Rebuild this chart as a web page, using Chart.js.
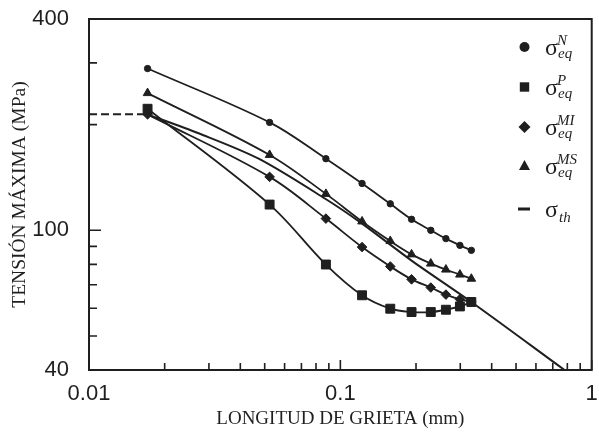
<!DOCTYPE html>
<html><head><meta charset="utf-8">
<script src="https://cdn.jsdelivr.net/npm/chart.js@4.4.1/dist/chart.umd.min.js"></script>
<style>html,body{margin:0;padding:0;background:#fff}#wrap{width:599px;height:436px;position:relative}</style>
</head><body><div id="wrap"><canvas id="c" width="599" height="436"></canvas></div>
<script>
// ---- data ----
const crackLength = [0.0171, 0.0523, 0.0876, 0.122, 0.158, 0.192, 0.229, 0.263, 0.299, 0.332];
const sigmaN  = [289, 203, 160, 136, 119, 107.5, 100, 94.7, 90.6, 87.7];
const sigmaP  = [222, 118.4, 79.9, 65.3, 59.8, 58.5, 58.5, 59.4, 60.7, 62.5];
const sigmaMI = [214, 142, 108, 89.6, 78.9, 72.5, 68.7, 65.6, 63.6, 62.5];
const sigmaMS = [246, 164, 127, 106, 93.2, 85.4, 80.4, 77.3, 74.8, 72.8];
const thLength = [0.0171, 0.0273, 0.0473, 0.0871, 0.122, 0.192, 0.332, 0.78];
const sigmaTh  = [214, 189, 160, 123, 104.5, 82, 62.5, 40];
const thPlateauLength = [0.01, 0.0171];
const thPlateau = [214, 214];
const xTicks = [0.01, 0.1, 1];
const xTickLabels = ['0.01', '0.1', '1'];
const xMinorTicks = [0.02,0.03,0.04,0.05,0.06,0.07,0.08,0.09,0.2,0.3,0.4,0.5,0.6,0.7,0.8,0.9];
const yTicks = [40, 100, 400];
const yTickLabels = ['40', '100', '400'];
const yMinorTicks = [50, 60, 70, 80, 90, 200, 300];
const legendSup = ['N', 'P', 'MI', 'MS'];
const xTitle = 'LONGITUD DE GRIETA (mm)';
const yTitle = 'TENSIÓN MÁXIMA (MPa)';

const ink = '#1f1f1f';
const pts = (xs, ys) => xs.map((x, i) => ({x: x, y: ys[i]}));
const style = (pointStyle, radius) => ({
  borderColor: ink, backgroundColor: ink, pointBackgroundColor: ink, pointBorderColor: ink,
  borderWidth: 1.8, pointStyle: pointStyle, pointRadius: radius, pointBorderWidth: 1,
  tension: 0.35, fill: false
});
const noPad = s => { s.paddingTop = 0; s.paddingBottom = 0; s.paddingLeft = 0; s.paddingRight = 0; };

const decor = {
  id: 'decor',
  beforeDatasetsDraw(chart) {
    const {ctx, chartArea: a, scales: {x, y}} = chart;
    ctx.save();
    ctx.strokeStyle = ink;
    ctx.lineWidth = 2;
    ctx.strokeRect(a.left, a.top, a.right - a.left, a.bottom - a.top);
    ctx.lineWidth = 1.6;
    ctx.beginPath();
    xTicks.forEach(v => { const p = x.getPixelForValue(v); ctx.moveTo(p, a.bottom); ctx.lineTo(p, a.bottom - 10); });
    xMinorTicks.forEach(v => { const p = x.getPixelForValue(v); ctx.moveTo(p, a.bottom); ctx.lineTo(p, a.bottom - 7); });
    yTicks.forEach(v => { const p = y.getPixelForValue(v); ctx.moveTo(a.left, p); ctx.lineTo(a.left + 12, p); });
    yMinorTicks.forEach(v => { const p = y.getPixelForValue(v); ctx.moveTo(a.left, p); ctx.lineTo(a.left + 8, p); });
    ctx.stroke();
    ctx.restore();
  },
  afterDatasetsDraw(chart) {
    const ctx = chart.ctx;
    ctx.save();
    ctx.fillStyle = ink;
    ctx.strokeStyle = ink;
    const mx = 524.5, rows = [47, 87, 127, 166];
    const shapes = ['circle', 'rect', 'rectRot', 'triangle'];
    rows.forEach((ry, i) => {
      ctx.beginPath();
      const s = shapes[i];
      if (s === 'circle') ctx.arc(mx, ry, 5, 0, Math.PI * 2);
      else if (s === 'rect') ctx.rect(mx - 4.7, ry - 4.7, 9.4, 9.4);
      else if (s === 'rectRot') { ctx.moveTo(mx - 6, ry); ctx.lineTo(mx, ry - 6); ctx.lineTo(mx + 6, ry); ctx.lineTo(mx, ry + 6); ctx.closePath(); }
      else { ctx.moveTo(mx, ry - 6); ctx.lineTo(mx + 5.5, ry + 4); ctx.lineTo(mx - 5.5, ry + 4); ctx.closePath(); }
      ctx.fill();
      ctx.font = '24px "Liberation Serif", serif';
      ctx.textBaseline = 'alphabetic';
      ctx.fillText('σ', 545, ry + 8);
      ctx.font = 'italic 15px "Liberation Serif", serif';
      ctx.fillText(legendSup[i], 557, ry - 2);
      ctx.fillText('eq', 558, ry + 11);
    });
    const ty = 209;
    ctx.fillRect(518, ty - 1.5, 12, 3);
    ctx.font = '24px "Liberation Serif", serif';
    ctx.fillText('σ', 545, ty + 8);
    ctx.font = 'italic 15px "Liberation Serif", serif';
    ctx.fillText('th', 559, ty + 13);
    ctx.restore();
  }
};

new Chart(document.getElementById('c'), {
  type: 'line',
  data: {
    datasets: [
      {label: 'σth plateau', data: pts(thPlateauLength, thPlateau), borderColor: ink, borderWidth: 2, borderDash: [8, 4], pointRadius: 0, tension: 0},
      {label: 'σth', data: pts(thLength, sigmaTh), borderColor: ink, borderWidth: 2, pointRadius: 0, tension: 0.3},
      Object.assign({label: 'σeq N', data: pts(crackLength, sigmaN)}, style('circle', 3.2)),
      Object.assign({label: 'σeq P', data: pts(crackLength, sigmaP)}, style('rect', 6.3)),
      Object.assign({label: 'σeq MI', data: pts(crackLength, sigmaMI)}, style('rectRot', 4.8)),
      Object.assign({label: 'σeq MS', data: pts(crackLength, sigmaMS)}, style('triangle', 5))
    ]
  },
  options: {
    responsive: false, animation: false, devicePixelRatio: 1,
    layout: {padding: {top: 19, right: 5, left: 0, bottom: 0}},
    plugins: {legend: {display: false}, tooltip: {enabled: false}},
    scales: {
      x: {
        type: 'logarithmic', min: 0.01, max: 1,
        afterBuildTicks: s => { s.ticks = xTicks.map(v => ({value: v})); },
        afterFit: s => { s.height = 66; noPad(s); },
        ticks: {autoSkip: false, maxRotation: 0, padding: 3, color: ink,
          font: {family: '"Liberation Sans", Arial, sans-serif', size: 22},
          callback: v => { const i = xTicks.indexOf(v); return i < 0 ? '' : xTickLabels[i]; }},
        grid: {display: false}, border: {display: false},
        title: {display: true, text: xTitle, color: ink, padding: {top: 0, bottom: 6},
          font: {family: '"Liberation Serif", "Times New Roman", serif', size: 19}}
      },
      y: {
        type: 'logarithmic', min: 40, max: 400,
        afterBuildTicks: s => { s.ticks = yTicks.map(v => ({value: v})); },
        afterFit: s => { s.width = 89; noPad(s); },
        ticks: {autoSkip: false, padding: 12, color: ink,
          font: {family: '"Liberation Sans", Arial, sans-serif', size: 22},
          callback: v => { const i = yTicks.indexOf(v); return i < 0 ? '' : yTickLabels[i]; }},
        grid: {display: false}, border: {display: false},
        title: {display: true, text: yTitle, color: ink, padding: {top: 8, bottom: 0},
          font: {family: '"Liberation Serif", "Times New Roman", serif', size: 19.5}}
      }
    }
  },
  plugins: [decor]
});
</script>
</body></html>
